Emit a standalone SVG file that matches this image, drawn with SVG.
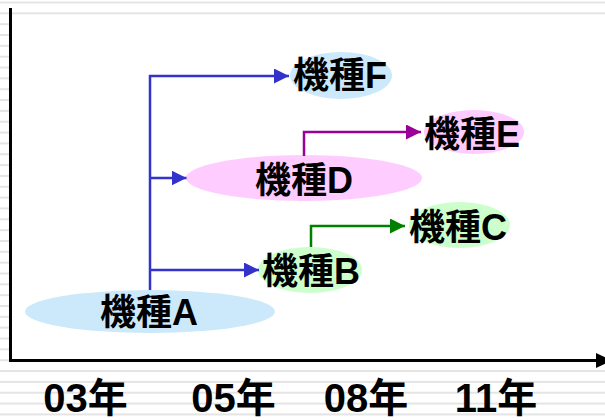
<svg xmlns="http://www.w3.org/2000/svg" width="605" height="420" viewBox="0 0 605 420">
  <style>
    .lbl { font-family: "Liberation Sans", "Noto Sans CJK JP", sans-serif; font-weight: bold; font-size: 36px; fill: #000; text-anchor: middle; }
    .yr { font-family: "Liberation Sans", "Noto Sans CJK JP", sans-serif; font-weight: bold; font-size: 40px; fill: #000; text-anchor: middle; }
    .blue { fill: #cce9fb; }
    .pink { fill: #ffccff; }
    .green { fill: #ccffcc; }
    .conn { fill: none; stroke-width: 2.5; }
  </style>
  <defs>
    <pattern id="stripes" patternUnits="userSpaceOnUse" x="0" y="1.5" width="605" height="10.84">
      <rect x="0" y="0" width="605" height="2" fill="#e4e4e4"/>
    </pattern>
    <marker id="arrB" markerUnits="userSpaceOnUse" viewBox="0 0 15 15" markerWidth="15" markerHeight="15" refX="15" refY="7.5" orient="auto">
      <path d="M0,0 L15,7.5 L0,15 Z" fill="#3333cc"/>
    </marker>
    <marker id="arrP" markerUnits="userSpaceOnUse" viewBox="0 0 15 15" markerWidth="15" markerHeight="15" refX="15" refY="7.5" orient="auto">
      <path d="M0,0 L15,7.5 L0,15 Z" fill="#990099"/>
    </marker>
    <marker id="arrG" markerUnits="userSpaceOnUse" viewBox="0 0 15 15" markerWidth="15" markerHeight="15" refX="15" refY="7.5" orient="auto">
      <path d="M0,0 L15,7.5 L0,15 Z" fill="#008000"/>
    </marker>
  </defs>

  <g id="background">
    <rect x="0" y="0" width="605" height="420" fill="#ffffff"/>
    <rect x="0" y="0" width="605" height="420" fill="url(#stripes)"/>
    <rect x="12" y="15.5" width="593" height="344" fill="#ffffff"/>
  </g>

  <g id="axes">
    <line x1="10.5" y1="8" x2="10.5" y2="362" stroke="#000" stroke-width="3"/>
    <line x1="9" y1="360.5" x2="600" y2="360.5" stroke="#000" stroke-width="3"/>
    <polygon points="596,353 612,360.5 596,368" fill="#000"/>
  </g>

  <g id="nodeA">
    <ellipse class="blue" cx="150" cy="311.5" rx="125" ry="21.5"/>
    <text class="lbl" x="149" y="325">機種A</text>
  </g>
  <g id="nodeB">
    <ellipse class="green" cx="310" cy="270" rx="52" ry="23"/>
    <text class="lbl" x="311" y="284">機種B</text>
  </g>
  <g id="nodeC">
    <ellipse class="green" cx="459.5" cy="225" rx="50.5" ry="23"/>
    <text class="lbl" x="458" y="240">機種C</text>
  </g>
  <g id="nodeD">
    <ellipse class="pink" cx="304" cy="178" rx="118" ry="23"/>
    <text class="lbl" x="304" y="193">機種D</text>
  </g>
  <g id="nodeE">
    <ellipse class="pink" cx="474" cy="132" rx="50" ry="22"/>
    <text class="lbl" x="472" y="147">機種E</text>
  </g>
  <g id="nodeF">
    <ellipse class="blue" cx="341" cy="75.5" rx="51" ry="23.5"/>
    <text class="lbl" x="340" y="88">機種F</text>
  </g>

  <g id="connectors">
    <path class="conn" d="M150,290 V76 H289" stroke="#3333cc" marker-end="url(#arrB)"/>
    <path class="conn" d="M150,178 H186.5" stroke="#3333cc" marker-end="url(#arrB)"/>
    <path class="conn" d="M150,270 H259" stroke="#3333cc" marker-end="url(#arrB)"/>
    <path class="conn" d="M304,156 V132 H421" stroke="#990099" marker-end="url(#arrP)"/>
    <path class="conn" d="M311,247 V226 H405" stroke="#008000" marker-end="url(#arrG)"/>
  </g>

  <g id="years">
    <text class="yr" x="85.5" y="412">03年</text>
    <text class="yr" x="233.5" y="412">05年</text>
    <text class="yr" x="366" y="412">08年</text>
    <text class="yr" x="496" y="412">11年</text>
  </g>
</svg>
